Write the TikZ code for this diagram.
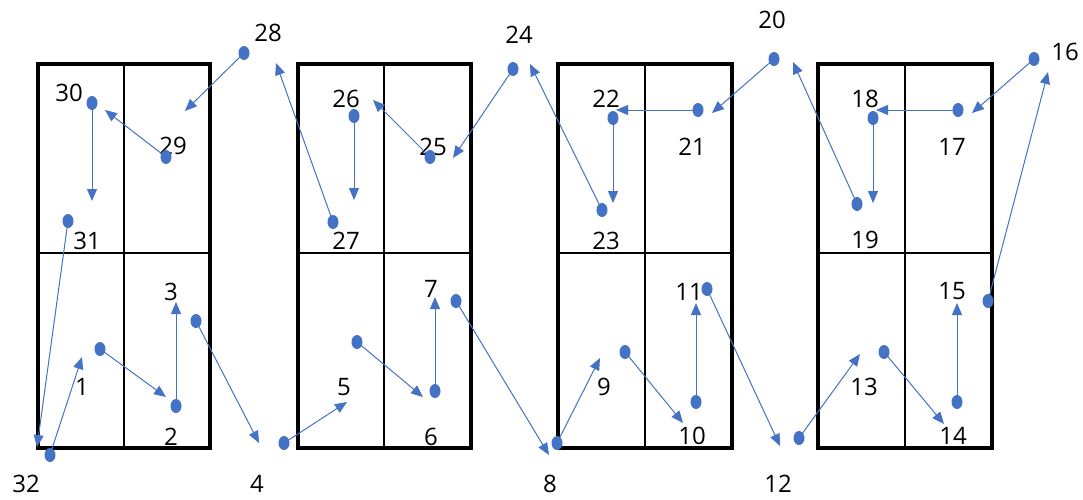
\documentclass[tikz,border=0pt]{standalone}
\usepackage{fontspec}
\setmainfont{Open Sans}
\usetikzlibrary{arrows.meta,shapes.geometric}
\definecolor{dotblue}{HTML}{4472C4}
\begin{document}
\begin{tikzpicture}[x=1pt,y=-1pt,
  dotnode/.style={ellipse,fill=dotblue,draw=none,minimum width=11pt,minimum height=14pt,inner sep=0pt},
  lbl/.style={font=\fontsize{24}{28}\selectfont,inner sep=0pt,text=black},
  arr/.style={draw=dotblue,line width=1pt,-{Triangle[length=12pt,width=10pt]}},
  frame/.style={draw=black,line width=4pt},
  divider/.style={draw=black,line width=2pt}]
\useasboundingbox (0,0) rectangle (1083,499);
% cabinets
\foreach \L/\M/\R in {38/124/210, 298/384/471, 558/645/732, 818/905/992}{
  \draw[divider] (\M,64) -- (\M,448);
  \draw[divider] (\L,253) -- (\R,253);
  \draw[frame] (\L,64) rectangle (\R,448);
}
% labels
\foreach \n/\x/\y in {1/82/387, 2/171/437, 3/171/292, 4/257/484, 5/344/387, 6/431/437, 7/431/289, 8/550/484,
  9/604/387, 10/692/436, 11/689/292, 12/778/484, 13/864/387, 14/953/436, 15/952/291, 16/1065/52,
  17/952/147, 18/865/99, 19/865/240, 20/772/20, 21/692/147, 22/606/99, 23/606/241, 24/519/35,
  25/433/147, 26/346/99, 27/346/241, 28/268/33, 29/173/146, 30/69/93, 31/87/241, 32/26/484}{
  \node[lbl] (l\n) at (\x,\y) {\n};
}
% arrow tips
\foreach \n/\x/\y in {1/82/357, 2/166/397, 3/176/302, 4/259/443, 5/347/402, 6/423/397, 7/435/297, 8/549/455,
  9/600/358, 10/683/423, 11/696/303, 12/780/446, 13/860/354, 14/944/424, 15/957/303, 16/1048/72,
  17/972/113, 18/876/110, 19/873/203, 20/793/62, 21/712/113, 22/616/110, 23/613/203, 24/530/64,
  25/453/158, 26/373/100, 27/354/200, 28/276/63, 29/185/111, 30/105/110, 31/92/201, 32/37/447}{
  \coordinate (t\n) at (\x,\y);
}
% dots
\foreach \n/\x/\y in {1/100/349, 2/176/406, 3/196/321, 4/284/443, 5/357/342, 6/435/391, 7/456/301, 8/557/443,
  9/625/352, 10/696/402, 11/707/289, 12/799/438, 13/884/352, 14/957/402, 15/988/301, 16/1034/59,
  17/958/110, 18/873/118, 19/857/204, 20/774/59, 21/698/110, 22/613/118, 23/602/210, 24/513/69,
  25/430/157, 26/354/116, 27/333/222, 28/244/53, 29/166/157, 30/92/103, 31/68/221, 32/50/455}{
  \node[dotnode] (d\n) at (\x,\y) {};
}
% connectors
\foreach \a/\b in {1/2,2/3,3/4,4/5,5/6,6/7,7/8,8/9,9/10,10/11,11/12,12/13,13/14,14/15,15/16,16/17,
  17/18,18/19,19/20,20/21,21/22,22/23,23/24,24/25,25/26,26/27,27/28,28/29,29/30,30/31,31/32,32/1}{
  \draw[arr] (d\a.center) -- (t\b);
}
\end{tikzpicture}
\end{document}
